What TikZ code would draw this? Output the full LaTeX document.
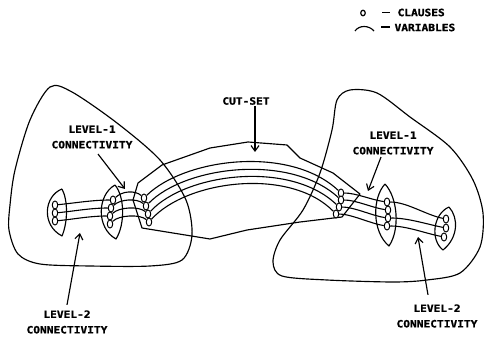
\documentclass[tikz,border=0pt]{standalone}
\usepackage{fontspec}
\newfontfamily\lblfont{DejaVu Sans Mono Bold}[FakeStretch=1.12,FakeBold=1.2]
\usetikzlibrary{shapes.geometric,arrows.meta}

\begin{document}
\begin{tikzpicture}[x=1pt,y=-1pt,line width=1.15pt,line join=round,
  clause/.style={ellipse,draw,fill=white,minimum width=5.5pt,minimum height=8pt,
    inner sep=0pt,line width=1pt},
  tag/.style={font=\lblfont\fontsize{10}{15.5}\selectfont,align=center,inner sep=1pt},
  pointer/.style={-{Straight Barb[length=5.5pt,width=8pt]}},
  wire/.style={line width=1.1pt}]
\useasboundingbox (0,0) rectangle (485,339);

% ---- the two clusters ----
\draw plot[smooth cycle] coordinates {(50,87) (72,92) (117,123) (160,160) (186,200)
  (192,235) (182,260) (150,266) (90,266) (40,264) (18,254) (9,230) (10,205) (15,170) (30,120)};
\draw plot[smooth cycle] coordinates {(350,90) (377,93) (410,117) (450,147) (473,180)
  (483,213) (480,247) (460,273) (427,280) (393,282) (327,280) (282,276) (273,262)
  (280,240) (303,210) (320,173) (332,130) (337,100)};

% ---- cut-set region ----
\draw (138,183) -- (162,165) -- (210,148) -- (248,142) -- (287,145) -- (300,158)
  -- (333,173) -- (360,194) -- (342,217) -- (300,222) -- (247,230) -- (210,239)
  -- (142,228) -- (133,200) -- cycle;

% ---- lens-shaped clause groups ----
\draw (62,189) .. controls (44,196) and (41,225) .. (62,236)
  .. controls (68,222) and (68,200) .. (62,189);
\draw (115,185) .. controls (97,195) and (96,228) .. (116,239)
  .. controls (125,225) and (125,197) .. (115,185);
\draw (385,184) .. controls (372,198) and (372,232) .. (389,246)
  .. controls (400,230) and (398,198) .. (385,184);
\draw (449,207) .. controls (433,214) and (430,240) .. (443,250)
  .. controls (458,238) and (459,218) .. (449,207);

% ---- clauses ----
\node[clause] (l1a) at (55,205) {};
\node[clause] (l1b) at (55,213) {};
\node[clause] (l1c) at (55,221) {};
\node[clause] (l2a) at (113,200) {};
\node[clause] (l2b) at (111,208) {};
\node[clause] (l2c) at (110,216) {};
\node[clause] (l2d) at (110,224) {};
\node[clause] (cla) at (144,198) {};
\node[clause] (clb) at (146,206) {};
\node[clause] (clc) at (148,214) {};
\node[clause] (cld) at (149,222) {};
\node[clause] (cra) at (341,193) {};
\node[clause] (crb) at (341,200) {};
\node[clause] (crc) at (339,207) {};
\node[clause] (crd) at (336,214) {};
\node[clause] (r1a) at (387,202) {};
\node[clause] (r1b) at (388,210) {};
\node[clause] (r1c) at (388,218) {};
\node[clause] (r1d) at (387,226) {};
\node[clause] (r2a) at (446,219) {};
\node[clause] (r2b) at (446,228) {};
\node[clause] (r2c) at (444,237) {};

% ---- variables ----
\draw[wire] (l1a) .. controls +(20,-2) and +(-20,0) .. (l2a);
\draw[wire] (l1b) .. controls +(20,-2) and +(-20,0) .. (l2b);
\draw[wire] (l1c) .. controls +(20,-2) and +(-20,0) .. (l2c);

\draw[wire] (l2a) .. controls +(9,-9) and +(-9,-8) .. (cla);
\draw[wire] (l2b) .. controls +(9,-9) and +(-9,-8) .. (clb);
\draw[wire] (l2c) .. controls +(9,-9) and +(-9,-8) .. (clc);
\draw[wire] (l2d) .. controls +(9,-9) and +(-9,-8) .. (cld);

\draw[wire] (cla) .. controls (185,158) and (290,145) .. (cra);
\draw[wire] (clb) .. controls (185,166) and (290,153) .. (crb);
\draw[wire] (clc) .. controls (186,173) and (290,160) .. (crc);
\draw[wire] (cld) .. controls (187,180) and (290,167) .. (crd);

\draw[wire] (cra) .. controls +(15,0) and +(-15,-2) .. (r1a);
\draw[wire] (crb) .. controls +(15,0) and +(-15,-2) .. (r1b);
\draw[wire] (crc) .. controls +(15,0) and +(-15,-2) .. (r1c);
\draw[wire] (crd) .. controls +(15,0) and +(-15,-2) .. (r1d);

\draw[wire] (r1a) .. controls +(20,0) and +(-20,-4) .. (r2a);
\draw[wire] (r1c) .. controls +(20,0) and +(-20,-4) .. (r2b);
\draw[wire] (r1d) .. controls +(20,0) and +(-20,-4) .. (r2c);

% ---- labels and pointers ----
\node[tag] (cut) at (246,101) {CUT-SET};
\coordinate (cuttip) at (255,152);
\draw[pointer] ([shift={(9,0)}]cut.south) -- (cuttip);

\node[tag] (lvl1l) at (92,137) {LEVEL-1\\CONNECTIVITY};
\coordinate (lvl1ltip) at (125,189);
\draw[pointer] ([shift={(6,4)}]lvl1l.south) -- (lvl1ltip);

\node[tag] (lvl1r) at (393,143) {LEVEL-1\\CONNECTIVITY};
\coordinate (lvl1rtip) at (368,191);
\draw[pointer] ([shift={(-12,1)}]lvl1r.south) -- (lvl1rtip);

\node[tag] (lvl2l) at (67,322) {LEVEL-2\\CONNECTIVITY};
\coordinate (lvl2ltip) at (80,233);
\draw[pointer] ([shift={(0,-4)}]lvl2l.north) -- (lvl2ltip);

\node[tag] (lvl2r) at (437,316) {LEVEL-2\\CONNECTIVITY};
\coordinate (lvl2rtip) at (418,237);
\draw[pointer] ([shift={(-9,-8)}]lvl2r.north) -- (lvl2rtip);

% ---- legend ----
\node[clause,minimum width=4.5pt,minimum height=5.5pt,line width=1.2pt] (keyc) at (363,13) {};
\coordinate (dash1a) at (382,12.5);
\coordinate (dash1b) at (390,12.5);
\draw (dash1a) -- (dash1b);
\node[tag,anchor=west,inner sep=0pt] (keyct) at (397,12.5) {CLAUSES};
\coordinate (keyva) at (355,31);
\coordinate (keyvb) at (374,31);
\draw (keyva) .. controls (359,25) and (369,25) .. (keyvb);
\coordinate (dash2a) at (381,27);
\coordinate (dash2b) at (390,27);
\draw (dash2a) -- (dash2b);
\node[tag,anchor=west,inner sep=0pt] (keyvt) at (394,27.5) {VARIABLES};
\end{tikzpicture}
\end{document}
